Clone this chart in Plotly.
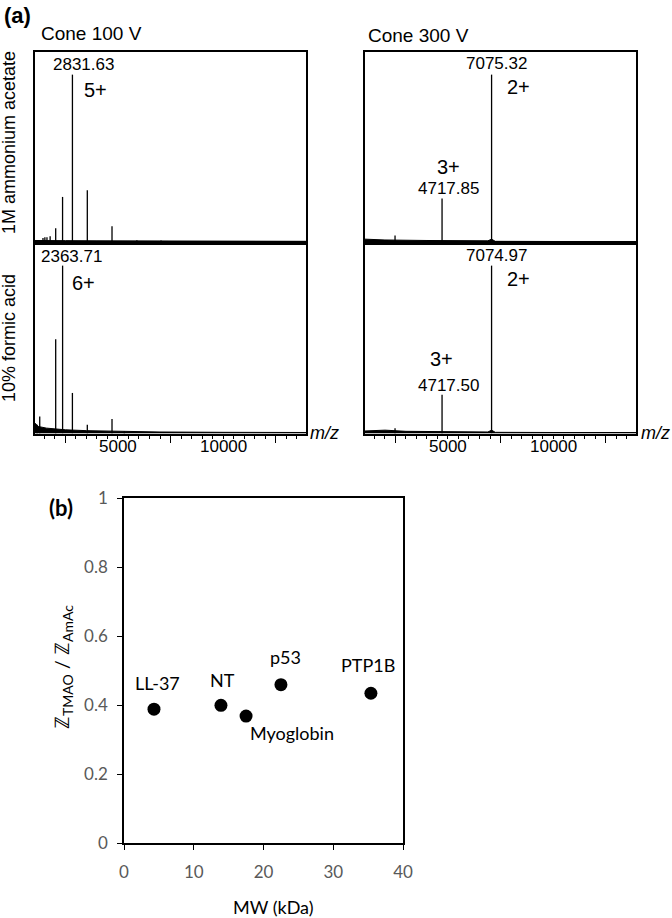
import plotly.graph_objects as go

# ---------- (a) mass spectra, relative intensity (%) ----------
mz_range = [1050, 13950]
tick_labels = [5000, 10000]

# top left: 1M ammonium acetate, cone 100 V
tl_mz = [1430, 1520, 1620, 1770, 2035, 2362, 2831.63, 3540, 4716, 5900, 7050]
tl_int = [2.5, 3, 3, 3.5, 8.3, 27, 100, 31, 9.5, 1.2, 1.0]
tl_base_mz = [1050, 1500, 2500, 4000, 6000, 9000, 13950]
tl_base = [1.0, 1.1, 0.9, 0.8, 0.7, 0.6, 0.5]

# bottom left: 10% formic acid, cone 100 V
bl_mz = [1150, 1275, 2035, 2363.71, 2831, 3540, 4716, 5300]
bl_int = [5, 10, 56, 100, 24, 5, 8.4, 1.2]
bl_base_mz = [1050, 1200, 1600, 2500, 3500, 5000, 7000, 10000, 13950]
bl_base = [6, 4, 3, 2, 1.5, 1.1, 0.7, 0.5, 0.4]

# top right: 1M ammonium acetate, cone 300 V
tr_mz = [2480, 4717.85, 7075.32]
tr_int = [4, 26, 100]
tr_base_mz = [1050, 2000, 4000, 6900, 7075, 7250, 10000, 13950]
tr_base = [1.8, 1.3, 1.0, 0.8, 1.8, 0.5, 0.4, 0.4]

# bottom right: 10% formic acid, cone 300 V
br_mz = [2480, 4717.50, 7074.97]
br_int = [3, 23, 100]
br_base_mz = [1050, 2000, 3000, 5000, 6900, 7075, 7250, 10000, 13950]
br_base = [1.3, 1.8, 1.1, 0.9, 0.7, 1.8, 0.5, 0.4, 0.4]

# peak annotations (text, m/z, intensity position, font size)
tl_labels = [("2831.63", 3335, 106.3, 17), ("5+", 3906, 90.8, 20)]
bl_labels = [("2363.71", 2811, 105.7, 17), ("6+", 3335, 89.6, 20)]
tr_labels = [("7075.32", 7333, 106.9, 17), ("2+", 8333, 92.6, 20),
             ("3+", 5001, 44.9, 20), ("4717.85", 5001, 32.3, 17)]
br_labels = [("7074.97", 7333, 106.3, 17), ("2+", 8333, 92.0, 20),
             ("3+", 4715, 44.3, 20), ("4717.50", 5001, 28.7, 17)]

# ---------- (b) charge ratio vs MW ----------
mw = [4.3, 13.9, 17.5, 22.5, 35.4]
ratio = [0.388, 0.399, 0.368, 0.459, 0.434]
names = ["LL-37", "NT", "Myoglobin", "p53", "PTP1B"]
name_shift = [(4, 26), (2, 25), (46, -17), (5, 28), (-3, 28)]

W, H = 672, 918
AR = "Liberation Sans"
CAL = "Lato"


def px_x(p):
    return p / W


def px_y(p):
    return 1 - p / H


fig = go.Figure()

panels = [
    ("x", "y", tl_mz, tl_int, tl_base_mz, tl_base, tl_labels),
    ("x2", "y2", bl_mz, bl_int, bl_base_mz, bl_base, bl_labels),
    ("x3", "y3", tr_mz, tr_int, tr_base_mz, tr_base, tr_labels),
    ("x4", "y4", br_mz, br_int, br_base_mz, br_base, br_labels),
]

for xa, ya, mz, inten, bmz, bint, labels in panels:
    xs, ys = [], []
    for m, i in zip(mz, inten):
        xs += [m, m, None]
        ys += [0, i, None]
    fig.add_trace(go.Scatter(x=bmz, y=bint, xaxis=xa, yaxis=ya, mode="lines",
                             fill="tozeroy", fillcolor="black",
                             line=dict(color="black", width=1), showlegend=False,
                             hoverinfo="skip"))
    fig.add_trace(go.Scatter(x=xs, y=ys, xaxis=xa, yaxis=ya, mode="lines",
                             line=dict(color="black", width=1.3), showlegend=False))
    for txt, lx, ly, fs in labels:
        fig.add_annotation(x=lx, y=ly, xref=xa, yref=ya, text=txt, showarrow=False,
                           xanchor="center", yanchor="middle",
                           font=dict(family=AR, size=fs, color="black"))

fig.add_trace(go.Scatter(x=mw, y=ratio, xaxis="x5", yaxis="y5", mode="markers",
                         marker=dict(color="black", size=13), showlegend=False))
for n, xv, yv, (dx, dy) in zip(names, mw, ratio, name_shift):
    fig.add_annotation(x=xv, y=yv, xref="x5", yref="y5", text=n, showarrow=False,
                       xanchor="center", yanchor="middle", xshift=dx, yshift=dy,
                       font=dict(family=CAL, size=18, color="black"))

left_dom = [px_x(35), px_x(306)]
right_dom = [px_x(365), px_x(636)]
top_dom = [px_y(243), px_y(52)]
bot_dom = [px_y(434), px_y(243)]

frame = dict(showline=True, linecolor="black", linewidth=1.5, mirror=True,
             showgrid=False, zeroline=False, automargin=False)


def spec_x(dom, anchor, bottom):
    d = dict(frame, domain=dom, anchor=anchor, range=mz_range)
    if bottom:
        d.update(tickmode="linear", tick0=2500, dtick=5000, ticks="outside",
                 ticklen=7, tickwidth=1.3, tickcolor="black", showticklabels=False,
                 minor=dict(tick0=0, dtick=500, ticks="outside", ticklen=3,
                            tickwidth=1, tickcolor="black"))
    else:
        d.update(showticklabels=False, ticks="")
    return d


def spec_y(dom, anchor):
    return dict(frame, domain=dom, anchor=anchor, range=[-0.5, 113.5],
                showticklabels=False, ticks="")


fig.update_layout(
    width=W, height=H, margin=dict(l=0, r=0, t=0, b=0, pad=0),
    plot_bgcolor="white", paper_bgcolor="white",
    xaxis=spec_x(left_dom, "y", False), yaxis=spec_y(top_dom, "x"),
    xaxis2=spec_x(left_dom, "y2", True), yaxis2=spec_y(bot_dom, "x2"),
    xaxis3=spec_x(right_dom, "y3", False), yaxis3=spec_y(top_dom, "x3"),
    xaxis4=spec_x(right_dom, "y4", True), yaxis4=spec_y(bot_dom, "x4"),
    xaxis5=dict(frame, domain=[px_x(124), px_x(403)], anchor="y5", range=[0, 40],
                dtick=10, ticks="outside", ticklen=5, tickcolor="black",
                ticklabelstandoff=8,
                tickfont=dict(family=CAL, size=17, color="#595959")),
    yaxis5=dict(frame, domain=[px_y(843), px_y(498)], anchor="x5", range=[0, 1],
                dtick=0.2, ticks="outside", ticklen=5, tickcolor="black",
                ticklabelstandoff=6,
                tickfont=dict(family=CAL, size=17, color="#595959")),
)

# m/z tick labels under the spectra
for xa in ["x2", "x4"]:
    for t in tick_labels:
        fig.add_annotation(x=t, y=px_y(446), xref=xa, yref="paper", text=str(t),
                           showarrow=False, xanchor="center", yanchor="middle",
                           font=dict(family=AR, size=17, color="black"))

texts = [
    ("<b>(a)</b>", 17, 15, 22, AR, 0),
    ("Cone 100 V", 91, 34, 19, AR, 0),
    ("Cone 300 V", 418, 36, 19, AR, 0),
    ("1M ammonium acetate", 9, 143, 18, AR, -90),
    ("10% formic acid", 9, 338, 18, AR, -90),
    ("<i>m/z</i>", 324, 433, 18, AR, 0),
    ("<i>m/z</i>", 655, 433, 18, AR, 0),
    ("<b>(b)</b>", 61, 507, 22, CAL, 0),
    ("MW (kDa)", 273, 907, 18, CAL, 0),
    ("ℤ<sub>TMAO</sub> / ℤ<sub>AmAc</sub>", 62, 667, 20, CAL, -90),
]
for txt, x, y, fs, fam, ang in texts:
    fig.add_annotation(x=px_x(x), y=px_y(y), xref="paper", yref="paper", text=txt,
                       showarrow=False, textangle=ang, xanchor="center", yanchor="middle",
                       font=dict(family=fam, size=fs, color="black"))

fig.write_html("out.html", config={"displayModeBar": False},
               post_script="document.body.style.margin='0';")
